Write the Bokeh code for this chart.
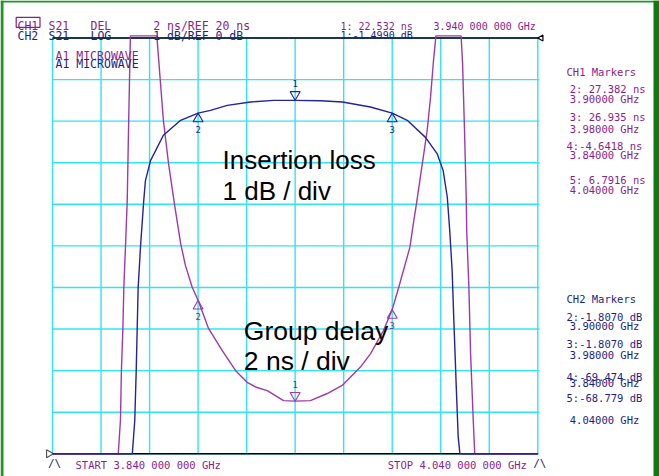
import numpy as np
from bokeh.plotting import figure
from bokeh.models import Range1d
from bokeh.core.properties import value
from bokeh.embed import file_html
from bokeh.resources import INLINE

# ---------------- data ----------------
freq_grid = [3.84, 3.86, 3.88, 3.90, 3.92, 3.94, 3.96, 3.98, 4.00, 4.02, 4.04]   # GHz, 10 divisions
db_grid = [0, -1, -2, -3, -4, -5, -6, -7, -8, -9, -10]                          # CH2: 1 dB/div, REF 0 dB (top)
# CH1 shares the same divisions: 2 ns/div, REF 20 ns (bottom)

# CH2  S21 LOG  (insertion loss, dB)
il_freq = [3.840, 3.855, 3.868, 3.8729, 3.8739, 3.8745, 3.8749, 3.8753, 3.8763, 3.8776,
           3.8783, 3.8804, 3.8857, 3.8928, 3.9000, 3.9051, 3.9120, 3.9216, 3.9311, 3.9400,
           3.9504, 3.9595, 3.9710, 3.9800, 3.9862, 3.9937, 3.9985, 4.0010, 4.0027, 4.0037,
           4.0047, 4.0054, 4.0064, 4.0072, 4.0079, 4.0120, 4.0250, 4.0400]
il_db = [-69.47, -62.0, -40.0, -10.4, -9.20, -8.00, -6.99, -6.00, -4.99, -3.91,
         -3.43, -2.95, -2.34, -1.98, -1.807, -1.74, -1.62, -1.54, -1.50, -1.499,
         -1.51, -1.54, -1.66, -1.807, -1.98, -2.39, -2.78, -3.19, -3.83, -4.63,
         -5.59, -6.79, -8.40, -9.60, -10.4, -40.0, -62.0, -68.78]

# CH1  S21 DEL  (group delay, ns)
gd_freq = [3.840, 3.855, 3.8665, 3.8671, 3.8680, 3.8684, 3.8690, 3.8694, 3.8701, 3.8708,
           3.8714, 3.8721, 3.8775, 3.8830, 3.8857, 3.8878, 3.8903, 3.8928, 3.8948, 3.8976,
           3.9000, 3.9043, 3.9099, 3.9154, 3.9202, 3.9240, 3.9285, 3.9352, 3.9400, 3.9463,
           3.9532, 3.9594, 3.9669, 3.9711, 3.9764, 3.9800, 3.9827, 3.9873, 3.9889, 3.9900,
           3.9924, 3.9944, 3.9958, 3.9969, 3.9980, 4.0030, 4.0084, 4.0090, 4.0098, 4.0105,
           4.0107, 4.0116, 4.0123, 4.0134, 4.0140, 4.0160, 4.0280, 4.0400]
gd_ns = [-4.64, 5.0, 17.0, 20.0, 21.60, 24.01, 26.03, 28.00, 30.02, 32.19,
         36.03, 40.5, 58.0, 40.5, 36.03, 33.98, 31.99, 30.12, 29.05, 28.00,
         27.382, 26.03, 24.97, 24.01, 23.44, 23.20, 23.04, 22.56, 22.532, 22.56,
         22.90, 23.29, 24.17, 24.82, 25.93, 26.935, 28.01, 29.94, 31.22, 32.03,
         33.95, 35.55, 37.15, 38.76, 40.5, 58.0, 40.5, 38.76, 35.55, 32.34,
         30.74, 28.01, 24.82, 21.60, 20.01, 16.0, 9.0, 6.79]

# markers 1..3 (on screen), 4..5 (off scale, at the band edges)
mk_freq = [3.94, 3.90, 3.98]
mk_ids = ["1", "2", "3"]
mk_gd = [22.532, 27.382, 26.935]
mk_il = [-1.499, -1.807, -1.807]
off_freq = [3.84, 4.04]

hdr1 = ["S21", "DEL", "2 ns/REF 20 ns"]
hdr2 = ["S21", "LOG", "1 dB/REF 0 dB"]
act1 = "1: 22.532 ns"
act2 = "1:-1.4990 dB"
center_freq = "3.940 000 000 GHz"
ch1_list = ["CH1 Markers", "2: 27.382 ns", "3.90000 GHz", "3: 26.935 ns", "3.98000 GHz",
            "4:-4.6418 ns", "3.84000 GHz", "5: 6.7916 ns", "4.04000 GHz"]
ch2_list = ["CH2 Markers", "2:-1.8070 dB", "3.90000 GHz", "3:-1.8070 dB", "3.98000 GHz",
            "4:-69.474 dB", "3.84000 GHz", "5:-68.779 dB", "4.04000 GHz"]
start_txt = "START 3.840 000 000 GHz"
stop_txt = "STOP 4.040 000 000 GHz"

# ---------------- layout ----------------
PURPLE_T = "#9d3aa9"
PURPLE = "#8a1e8c"
NAVY_T = "#23239a"
NAVY = "#1e1e82"
CYAN = "#30e4f4"
MONO = value("DejaVu Sans Mono")
SANS = value("Liberation Sans")

W, H = 659, 476
GL, GR = 52.0, 537.3          # grid left/right (canvas px)
GT, GB = 37.5, 453.3          # grid top/bottom (canvas px)
px_per_f = (GR - GL) / (freq_grid[-1] - freq_grid[0])
px_per_db = (GB - GT) / (db_grid[0] - db_grid[-1])
x0 = freq_grid[0] - GL / px_per_f
x1 = freq_grid[0] + (W - GL) / px_per_f
ytop = db_grid[0] + GT / px_per_db
ybot = db_grid[-1] - (H - GB) / px_per_db


def ns_of_db(d):
    return 40.0 + 2.0 * d


def XA(px):  # page px -> GHz
    return x0 + px / px_per_f


def YA(py):  # page px -> dB
    return ytop - py / px_per_db


p = figure(width=W, height=H, x_range=Range1d(x0, x1), y_range=Range1d(ybot, ytop),
           output_backend="svg", toolbar_location=None,
           x_axis_location=None, y_axis_location=None, min_border=0)
p.extra_y_ranges = {"ns": Range1d(ns_of_db(ybot), ns_of_db(ytop))}
p.grid.visible = False
p.outline_line_color = None
p.background_fill_color = "white"
p.border_fill_color = "white"

# green window frame
p.quad(left=[XA(0)], right=[XA(3)], bottom=[YA(476)], top=[YA(0)], color="#22952a", line_width=0)
p.quad(left=[XA(0)], right=[XA(659)], bottom=[YA(2)], top=[YA(0)], color="#22952a", line_width=0)
p.quad(left=[XA(653)], right=[XA(659)], bottom=[YA(476)], top=[YA(0)], color="#0f7a12", line_width=0)

# grid
f0, f1 = freq_grid[0], freq_grid[-1]
p.segment(x0=freq_grid, y0=[db_grid[-1]] * len(freq_grid), x1=freq_grid, y1=[db_grid[0]] * len(freq_grid),
          line_color=CYAN, line_width=1.4)
p.segment(x0=[f0] * len(db_grid), y0=db_grid, x1=[f1 + 0.0006] * len(db_grid), y1=db_grid,
          line_color=CYAN, line_width=1.4)
p.segment(x0=[f0, f0], y0=[db_grid[0], db_grid[-1]], x1=[f1 + 0.0006, f1], y1=[db_grid[0], db_grid[-1]],
          line_color="black", line_width=1.4)

# reference position indicators
p.scatter(x=[f0 - 0.0015], y=[db_grid[-1]], marker="triangle", angle=-np.pi / 2, size=8,
          fill_color=None, line_color="#555555", line_width=1.2)
p.scatter(x=[f1 + 0.0014], y=[db_grid[0]], marker="triangle", angle=np.pi / 2, size=6,
          fill_color=None, line_color="black", line_width=1.2)

# traces (clipped to the screen like the analyser does)
gd_plot = np.clip(np.array(gd_ns), 20.0, 40.1)
il_plot = np.clip(np.array(il_db), -10.0, 0.0)
p.line(gd_freq, gd_plot, y_range_name="ns", line_color=PURPLE_T, line_width=1.4)
p.line(il_freq, il_plot, line_color=NAVY_T, line_width=1.4)

# markers
apex = 5.77
mk_gd_y = [mk_gd[0] + apex * 2 / px_per_db] + [v - apex * 2 / px_per_db for v in mk_gd[1:]]
mk_il_y = [mk_il[0] + apex / px_per_db] + [v - apex / px_per_db for v in mk_il[1:]]
p.scatter(x=mk_freq[:1], y=mk_gd_y[:1], y_range_name="ns", marker="inverted_triangle", size=10,
          fill_color=None, line_color=PURPLE_T, line_width=1.1)
p.scatter(x=mk_freq[1:], y=mk_gd_y[1:], y_range_name="ns", marker="triangle", size=10,
          fill_color=None, line_color=PURPLE_T, line_width=1.1)
p.scatter(x=mk_freq[:1], y=mk_il_y[:1], marker="inverted_triangle", size=10,
          fill_color=None, line_color=NAVY_T, line_width=1.1)
p.scatter(x=mk_freq[1:], y=mk_il_y[1:], marker="triangle", size=10,
          fill_color=None, line_color=NAVY_T, line_width=1.1)
for ys, rng, col in ((mk_gd, "ns", PURPLE), (mk_il, "default", NAVY)):
    p.text(x=mk_freq[:1], y=ys[:1], text=mk_ids[:1], y_range_name=rng, y_offset=-17,
           text_font=MONO, text_font_size="9px", text_color=col, text_align="center",
           text_baseline="middle")
    p.text(x=mk_freq[1:], y=ys[1:], text=mk_ids[1:], y_range_name=rng, y_offset=16,
           text_font=MONO, text_font_size="9px", text_color=col, text_align="center",
           text_baseline="middle")
# off-scale markers 4 and 5
p.text(x=off_freq, y=[db_grid[-1]] * 2, text=["/\\", "/\\"], x_offset=2, y_offset=3,
       text_font=MONO, text_font_size="11px", text_color=NAVY, text_align="center",
       text_baseline="top")


def txt(px, py, s, color, size, font=MONO, align="left"):
    p.text(x=[XA(px)], y=[YA(py)], text=[s], text_font=font, text_font_size=size,
           text_color=color, text_align=align, text_baseline="alphabetic")


# header
p.quad(left=[XA(15.7)], right=[XA(39.5)], bottom=[YA(26.8)], top=[YA(16.8)],
       fill_color=None, line_color=PURPLE, line_width=1.2)
txt(17, 25.7, "CH1", PURPLE, "11.5px")
txt(17, 35.0, "CH2", NAVY, "11.5px")
for px, s1, s2 in zip([48, 90, 152.7], hdr1, hdr2):
    txt(px, 25.7, s1, PURPLE, "11.5px")
    txt(px, 35.0, s2, NAVY, "11.5px")
txt(340, 25.7, act1, PURPLE, "10px")
txt(340, 35.0, act2, NAVY, "10px")
txt(433, 25.7, center_freq, PURPLE, "10px")
txt(55, 55.0, "A1 MICROWAVE", PURPLE, "11.5px")
txt(55, 63.5, "A1 MICROWAVE", NAVY, "11.5px")

# marker tables
ch1_y = [71.5, 88.3, 98.3, 116.0, 128.3, 145.0, 154.0, 179.0, 189.0]
ch2_y = [298.3, 316.7, 325.7, 343.3, 354.0, 376.7, 382.3, 397.7, 419.0]
for i, (s, yy) in enumerate(zip(ch1_list, ch1_y)):
    xx = 566 if (i == 0 or s.startswith("4:-")) else 569.3
    txt(xx, yy, s, PURPLE, "10.5px")
for i, (s, yy) in enumerate(zip(ch2_list, ch2_y)):
    xx = 566 if (i == 0 or ":-" in s) else 569.3
    txt(xx, yy, s, NAVY, "10.5px")

# start / stop
txt(75, 464.3, start_txt, PURPLE, "10.5px")
txt(387.3, 464.3, stop_txt, PURPLE, "10.5px")

# annotations
txt(222, 159.5, "Insertion loss", "black", "26px", font=SANS)
txt(222, 190.5, "1 dB / div", "black", "26px", font=SANS)
txt(243.3, 330.0, "Group delay", "black", "26.5px", font=SANS)
txt(243.3, 360.0, "2 ns / div", "black", "26.5px", font=SANS)

open("out.html", "w").write(file_html(p, INLINE))
